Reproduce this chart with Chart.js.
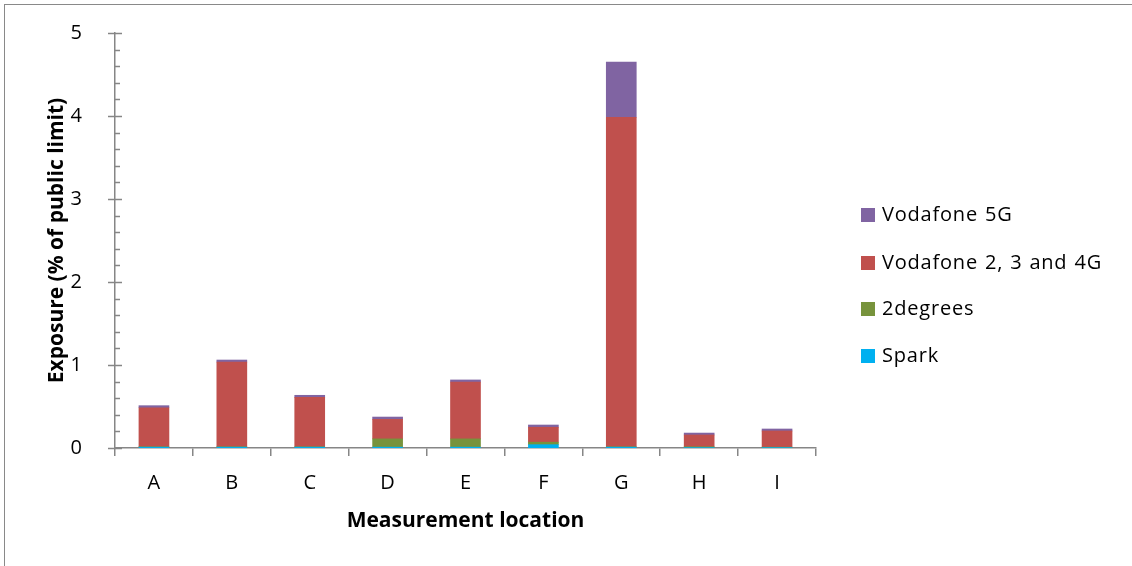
<!DOCTYPE html>
<html>
<head>
<meta charset="utf-8">
<script src="https://cdn.jsdelivr.net/npm/chart.js@4"></script>
<style>
  html, body { margin: 0; padding: 0; background: #fff; }
  #wrap { position: relative; width: 1132px; height: 566px; overflow: hidden; }
  #frame { position: absolute; left: 4px; top: 4px; width: 1200px; height: 600px;
           border-left: 1.5px solid #898989; border-top: 1.5px solid #898989; box-sizing: border-box; }
  canvas { position: absolute; left: 0; top: 0; }
  #legend { position: absolute; left: 861px; top: 0; font-family: "Open Sans", sans-serif;
            font-size: 20px; letter-spacing: 0.8px; word-spacing: 1px; color: #000; }
  .item { position: absolute; left: 0; white-space: nowrap; height: 24px; line-height: 24px; }
  .sw { position: absolute; left: 0; top: 5px; width: 14px; height: 14px; }
  .lbl { position: absolute; left: 21px; top: -1px; }
</style>
</head>
<body>
<div id="wrap">
  <div id="frame"></div>
  <canvas id="c" width="1132" height="566"></canvas>
  <div id="legend"></div>
</div>
<script>
const categories = ["A", "B", "C", "D", "E", "F", "G", "H", "I"];
const spark      = [0.010, 0.010, 0.010, 0.010, 0.010, 0.040, 0.010, 0.005, 0.005];
const twoDegrees = [0.005, 0.005, 0.005, 0.100, 0.100, 0.030, 0.005, 0.010, 0.005];
const vodafone234 = [0.470, 1.020, 0.595, 0.235, 0.685, 0.180, 3.970, 0.142, 0.195];
const vodafone5G = [0.025, 0.025, 0.025, 0.028, 0.025, 0.027, 0.665, 0.023, 0.024];
const yTicks = [0, 1, 2, 3, 4, 5];

const seriesNames = ["Spark", "2degrees", "Vodafone 2, 3 and 4G", "Vodafone 5G"];
const seriesColors = ["#00B0F0", "#77933C", "#C0504D", "#8064A2"];
const seriesData = [spark, twoDegrees, vodafone234, vodafone5G];

const axisColor = "#868686";

const yMinorTicks = {
  id: 'yMinorTicks',
  afterDraw(chart) {
    const y = chart.scales.y;
    const ctx = chart.ctx;
    const x0 = y.right;
    ctx.save();
    ctx.strokeStyle = axisColor;
    ctx.lineWidth = 1.5;
    for (let v = 0; v <= 5.0001; v += 0.2) {
      const py = Math.round(y.getPixelForValue(v)) + 0.5;
      const major = Math.abs(v - Math.round(v)) < 1e-6;
      ctx.beginPath();
      if (major) { ctx.moveTo(x0 - 7, py); ctx.lineTo(x0 + 7, py); }
      else { ctx.moveTo(x0, py); ctx.lineTo(x0 + 5, py); }
      ctx.stroke();
    }
    ctx.restore();
  }
};

const font = "'Open Sans', sans-serif";

new Chart(document.getElementById('c'), {
  type: 'bar',
  data: {
    labels: categories,
    datasets: seriesData.map((d, i) => ({
      label: seriesNames[i],
      data: d,
      backgroundColor: seriesColors[i],
      borderWidth: 0,
      barThickness: 30
    }))
  },
  options: {
    responsive: false,
    animation: false,
    devicePixelRatio: 1,
    layout: { padding: { left: 44, top: 33, right: 316, bottom: 32 } },
    plugins: { legend: { display: false }, tooltip: { enabled: false } },
    scales: {
      x: {
        stacked: true,
        afterFit: s => { s.height = 86; },
        grid: { display: true, drawOnChartArea: false, drawTicks: true, tickLength: 8,
                offset: true, color: axisColor, lineWidth: 1.5 },
        border: { display: true, color: axisColor, width: 1.5 },
        ticks: { color: '#000', font: { family: font, size: 20 }, padding: 15 },
        title: { display: true, text: 'Measurement location', color: '#000',
                 font: { family: font, size: 21, weight: 'bold' }, padding: 0 }
      },
      y: {
        stacked: true,
        min: 0, max: 5,
        afterFit: s => { s.width = 71; s.paddingTop = 0; s.paddingBottom = 0; },
        afterBuildTicks: s => { s.ticks = yTicks.map(v => ({ value: v })); },
        grid: { display: false },
        border: { display: true, color: axisColor, width: 1.5 },
        ticks: { color: '#000', font: { family: font, size: 20 }, padding: 25 },
        title: { display: true, text: 'Exposure (% of public limit)', color: '#000',
                 font: { family: font, size: 21, weight: 'bold' }, padding: 0 }
      }
    }
  },
  plugins: [yMinorTicks]
});

// legend (top to bottom: reverse stacking order)
const legendTops = [203, 251, 297, 344];
const lg = document.getElementById('legend');
[3, 2, 1, 0].forEach((si, k) => {
  const it = document.createElement('div');
  it.className = 'item';
  it.style.top = legendTops[k] + 'px';
  it.innerHTML = '<div class="sw" style="background:' + seriesColors[si] + '"></div><span class="lbl">' + seriesNames[si] + '</span>';
  lg.appendChild(it);
});
</script>
</body>
</html>
